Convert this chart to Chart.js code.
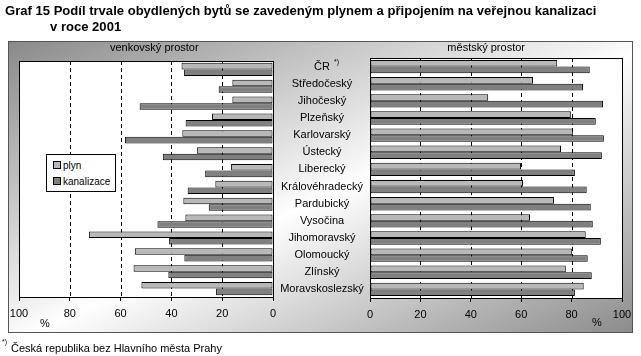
<!DOCTYPE html>
<html><head><meta charset="utf-8">
<script src="https://cdn.jsdelivr.net/npm/chart.js@4/dist/chart.umd.min.js"></script>
<style>
html,body{margin:0;padding:0;background:#fff;}
body{width:641px;height:356px;position:relative;overflow:hidden;font-family:"Liberation Sans",Arial,sans-serif;color:#000;}
#frame{position:absolute;left:8px;top:41px;width:623px;height:290px;border:1px solid #555;
 background:linear-gradient(to bottom right,#8a8a8a 0%,#f4f4f4 48%,#ffffff 52%,#8c8c8c 100%);}
canvas{position:absolute;left:0;top:0;}
.t{position:absolute;white-space:nowrap;}
#title,#title2{font:bold 12px "Liberation Sans",Arial,sans-serif;line-height:16px;transform-origin:0 0;}
#title{left:5px;top:3px;}
#title2{left:50px;top:19px;}
.s{font-size:11px;line-height:13px;}
#legend{position:absolute;left:46px;top:154px;width:68px;height:36px;border:1px solid #000;background:#fff;font-size:10px;}
#legend .it{position:absolute;left:6px;height:13px;line-height:13px;white-space:nowrap;}
#legend .sw{display:inline-block;width:6px;height:6px;border:1px solid #000;margin-right:2px;vertical-align:0px;}
</style></head>
<body>
<div id="frame"></div>
<canvas id="cl" width="641" height="356"></canvas>
<canvas id="cr" width="641" height="356"></canvas>
<div class="t" id="title">Graf 15 Podíl trvale obydlených bytů se zavedeným plynem a připojením na veřejnou kanalizaci</div>
<div class="t" id="title2">v roce 2001</div>
<div class="t s" id="hl" style="left:110px;top:41px;">venkovský prostor</div>
<div class="t s" id="hr" style="right:116px;top:41px;">městský prostor</div>
<div class="t s" style="left:40px;top:317px;">%</div>
<div class="t s" style="left:592px;top:316px;">%</div>
<div class="t" style="left:2px;top:338px;font-size:7px;line-height:8px;">*)</div>
<div class="t s" style="left:11px;top:342px;">Česká republika bez Hlavního města Prahy</div>
<div id="legend"></div>
<script>
const categories = ['ČR','Středočeský','Jihočeský','Plzeňský','Karlovarský','Ústecký','Liberecký','Královéhradecký','Pardubický','Vysočina','Jihomoravský','Olomoucký','Zlínský','Moravskoslezský'];
const seriesNames = ['plyn','kanalizace'];
const venkovPlyn  = [36, 16, 16, 24, 35.7, 30, 16.5, 22.7, 35.3, 34.5, 72.5, 54.4, 54.9, 51.8];
const venkovKanal = [35, 21.4, 52.5, 34.4, 58.3, 43.4, 26.7, 33.6, 25.3, 45.5, 40.9, 34.9, 41.2, 22.4];
const mestoPlyn   = [74.3, 64.7, 46.9, 79.7, 80.5, 75.8, 59.9, 60.7, 73.0, 63.5, 85.6, 80.1, 77.7, 84.8];
const mestoKanal  = [87.2, 84.5, 92.5, 89.6, 92.8, 92.0, 81.3, 86.0, 87.6, 88.4, 91.6, 86.4, 88.0, 81.3];
const xTicks = [0, 20, 40, 60, 80, 100];
const footnoteMark = '*)';

const colors = ['#b8b8b8', '#808080'];
const FONT = '"Liberation Sans", Arial, sans-serif';

// title fit to reference width
const t1 = document.getElementById('title'), t2 = document.getElementById('title2');
const sc = 592 / t1.offsetWidth;
t1.style.transform = 'scaleX(' + sc + ')';
t2.style.transform = 'scaleX(' + sc + ')';

// legend
const lg = document.getElementById('legend');
seriesNames.forEach((n, i) => {
  const d = document.createElement('div');
  d.className = 'it';
  d.style.top = (4 + i * 16) + 'px';
  d.innerHTML = '<span class="sw" style="background:' + colors[i] + '"></span>' + n;
  lg.appendChild(d);
});

function panelPlugin(drawLabels) {
  return {
    id: 'panel',
    beforeDraw(chart) {
      const a = chart.chartArea, ctx = chart.ctx;
      ctx.save(); ctx.fillStyle = '#fff';
      ctx.fillRect(a.left, a.top, a.right - a.left, a.bottom - a.top);
      ctx.restore();
    },
    beforeDatasetsDraw(chart) {
      const a = chart.chartArea, ctx = chart.ctx, xs = chart.scales.x;
      ctx.save(); ctx.strokeStyle = '#000'; ctx.lineWidth = 1; ctx.setLineDash([4, 3]);
      xTicks.slice(1, -1).forEach(v => {
        const x = Math.round(xs.getPixelForValue(v)) + 0.5;
        ctx.beginPath(); ctx.moveTo(x, a.top); ctx.lineTo(x, a.bottom); ctx.stroke();
      });
      ctx.restore();
    },
    afterDatasetsDraw(chart) {
      const a = chart.chartArea, ctx = chart.ctx;
      ctx.save(); ctx.strokeStyle = '#000'; ctx.lineWidth = 1;
      ctx.strokeRect(Math.round(a.left) + 0.5, Math.round(a.top) + 0.5, Math.round(a.right - a.left), Math.round(a.bottom - a.top));
      if (drawLabels) {
        const ys = chart.scales.y;
        ctx.fillStyle = '#000'; ctx.font = '11px ' + FONT;
        ctx.textAlign = 'center'; ctx.textBaseline = 'middle';
        categories.forEach((c, i) => {
          const y = ys.getPixelForValue(i);
          ctx.fillText(c, 322, y);
          if (i === 0) {
            const w = ctx.measureText(c).width;
            ctx.font = '7px ' + FONT; ctx.textAlign = 'left';
            ctx.fillText(footnoteMark, 322 + w / 2 + 4, y - 5);
            ctx.font = '11px ' + FONT; ctx.textAlign = 'center';
          }
        });
      }
      ctx.restore();
    }
  };
}

function makeChart(id, d1, d2, reverse, padding, drawLabels) {
  return new Chart(document.getElementById(id), {
    type: 'bar',
    data: {
      labels: categories,
      datasets: [
        { label: seriesNames[0], data: d1, backgroundColor: colors[0], borderColor: '#000', borderWidth: 1, borderSkipped: false },
        { label: seriesNames[1], data: d2, backgroundColor: colors[1], borderColor: '#000', borderWidth: 1, borderSkipped: false }
      ]
    },
    options: {
      indexAxis: 'y', responsive: false, animation: false,
      layout: { padding: padding },
      datasets: { bar: { categoryPercentage: 0.78, barPercentage: 1.0 } },
      plugins: { legend: { display: false }, tooltip: { enabled: false } },
      scales: {
        x: {
          type: 'linear', min: 0, max: 100, reverse: reverse,
          afterBuildTicks: s => { s.ticks = xTicks.map(v => ({ value: v })); },
          afterFit: s => { s.height = 30; },
          ticks: { color: '#000', font: { size: 11, family: FONT }, padding: 6, maxRotation: 0 },
          grid: { display: true, drawOnChartArea: false, drawTicks: true, tickLength: 4, color: '#000' },
          border: { display: false }
        },
        y: { type: 'category', display: false, offset: true }
      }
    },
    plugins: [panelPlugin(drawLabels)]
  });
}

makeChart('cl', venkovPlyn, venkovKanal, true, { left: 19, right: 368, top: 61, bottom: 29 }, false);
makeChart('cr', mestoPlyn, mestoKanal, false, { left: 370, right: 19, top: 58, bottom: 28 }, true);
</script>
</body></html>
